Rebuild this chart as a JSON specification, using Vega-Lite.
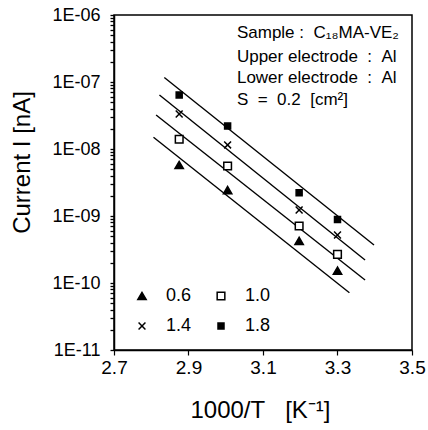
{
  "$schema": "https://vega.github.io/schema/vega-lite/v6.json",
  "width": 298,
  "height": 335,
  "autosize": "none",
  "padding": {"left": 114, "top": 15, "right": 16, "bottom": 80},
  "background": "white",
  "config": {
    "font": "Liberation Sans",
    "view": {"stroke": "black", "strokeWidth": 1.5},
    "axis": {"grid": false, "domainColor": "black", "domainWidth": 1.5, "tickColor": "black", "tickWidth": 1.2, "labelColor": "black", "titleColor": "black", "titleFontWeight": "normal"}
  },
  "datasets": {
    "points": [
      {"series": "0.6", "x": 2.875, "y": 5.77e-9},
      {"series": "0.6", "x": 3.005, "y": 2.44e-9},
      {"series": "0.6", "x": 3.197, "y": 4.24e-10},
      {"series": "0.6", "x": 3.300, "y": 1.53e-10},
      {"series": "1.0", "x": 2.875, "y": 1.40e-8},
      {"series": "1.0", "x": 3.005, "y": 5.57e-9},
      {"series": "1.0", "x": 3.197, "y": 7.1e-10},
      {"series": "1.0", "x": 3.300, "y": 2.68e-10},
      {"series": "1.4", "x": 2.875, "y": 3.33e-8},
      {"series": "1.4", "x": 3.005, "y": 1.15e-8},
      {"series": "1.4", "x": 3.197, "y": 1.23e-9},
      {"series": "1.4", "x": 3.300, "y": 5.2e-10},
      {"series": "1.8", "x": 2.875, "y": 6.4e-8},
      {"series": "1.8", "x": 3.005, "y": 2.2e-8},
      {"series": "1.8", "x": 3.197, "y": 2.23e-9},
      {"series": "1.8", "x": 3.300, "y": 8.9e-10}
    ],
    "fits": [
      {"series": "0.6", "x": 2.806, "y": 1.50e-8},
      {"series": "0.6", "x": 3.332, "y": 7.16e-11},
      {"series": "1.0", "x": 2.813, "y": 3.21e-8},
      {"series": "1.0", "x": 3.374, "y": 1.11e-10},
      {"series": "1.4", "x": 2.822, "y": 6.4e-8},
      {"series": "1.4", "x": 3.374, "y": 2.2e-10},
      {"series": "1.8", "x": 2.835, "y": 1.17e-7},
      {"series": "1.8", "x": 3.398, "y": 3.69e-10}
    ],
    "notes": [
      {"label": "Sample\u00a0:\u00a0\u00a0C₁₈MA-VE₂", "x": 3.03, "y": 5.38e-7},
      {"label": "Upper electrode\u00a0\u00a0:\u00a0\u00a0Al", "x": 3.03, "y": 2.36e-7},
      {"label": "Lower electrode\u00a0\u00a0:\u00a0\u00a0Al", "x": 3.03, "y": 1.15e-7},
      {"label": "S\u00a0\u00a0=\u00a0\u00a00.2\u00a0\u00a0[cm²]", "x": 3.03, "y": 5.38e-8}
    ]
  },
  "encoding": {
    "x": {
      "field": "x", "type": "quantitative",
      "scale": {"domain": [2.7, 3.5], "nice": false, "zero": false},
      "axis": {
        "values": [2.7, 2.9, 3.1, 3.3, 3.5], "format": ".1f",
        "ticks": true, "tickSize": 5, "labelFontSize": 19, "labelPadding": 3, "labelFlush": false, "labelOverlap": false,
        "title": "1000/T\u00a0\u00a0\u00a0[K⁻¹]", "titleFontSize": 24, "titleX": 146, "titleY": 67, "titleBaseline": "alphabetic"
      }
    },
    "y": {
      "field": "y", "type": "quantitative",
      "scale": {"type": "log", "domain": [1e-11, 1e-6], "nice": false},
      "axis": {
        "values": [1e-11, 2e-11, 3e-11, 4e-11, 5e-11, 6e-11, 7e-11, 8e-11, 9e-11,
                   1e-10, 2e-10, 3e-10, 4e-10, 5e-10, 6e-10, 7e-10, 8e-10, 9e-10,
                   1e-9, 2e-9, 3e-9, 4e-9, 5e-9, 6e-9, 7e-9, 8e-9, 9e-9,
                   1e-8, 2e-8, 3e-8, 4e-8, 5e-8, 6e-8, 7e-8, 8e-8, 9e-8,
                   1e-7, 2e-7, 3e-7, 4e-7, 5e-7, 6e-7, 7e-7, 8e-7, 9e-7, 1e-6],
        "ticks": true,
        "tickSize": 4, "tickColor": "black", "tickWidth": 1.3,
        "labelExpr": "abs(log(datum.value)/LN10 - round(log(datum.value)/LN10)) < 0.001 ? '1E-' + (-round(log(datum.value)/LN10) < 10 ? '0' : '') + (-round(log(datum.value)/LN10)) : ''",
        "labelFontSize": 18, "labelPadding": 10, "labelOverlap": false, "labelBound": false, "labelFlush": false,
        "title": "Current I [nA]", "titleFontSize": 24, "titleX": -92, "titleY": 147, "titleBaseline": "middle", "titleAngle": -90
      }
    }
  },
  "layer": [
    {
      "data": {"name": "fits"},
      "mark": {"type": "line", "color": "black", "strokeWidth": 1.4},
      "encoding": {"detail": {"field": "series", "type": "nominal"}}
    },
    {
      "data": {"name": "points"},
      "mark": {"type": "point", "opacity": 1, "stroke": "black", "strokeWidth": 1.5},
      "encoding": {
        "shape": {
          "field": "series", "type": "nominal",
          "scale": {"domain": ["0.6", "1.0", "1.4", "1.8"], "range": ["triangle-up", "square", "M-1,-1L1,1M-1,1L1,-1", "square"]},
          "legend": {"orient": "none", "direction": "horizontal", "legendX": 19, "legendY": 272, "columns": 2, "title": null, "labelFontSize": 18, "labelColor": "black", "labelOffset": 15, "columnPadding": 20, "rowPadding": 12, "symbolStrokeColor": "black", "symbolStrokeWidth": 1.5, "padding": 0}
        },
        "fill": {
          "field": "series", "type": "nominal",
          "scale": {"domain": ["0.6", "1.0", "1.4", "1.8"], "range": ["black", "white", "black", "black"]}
        },
        "size": {
          "field": "series", "type": "nominal",
          "scale": {"domain": ["0.6", "1.0", "1.4", "1.8"], "range": [70, 36, 42, 49]}
        }
      }
    },
    {
      "data": {"name": "notes"},
      "mark": {"type": "text", "align": "left", "baseline": "middle", "fontSize": 17, "color": "black"},
      "encoding": {"text": {"field": "label", "type": "nominal"}}
    }
  ]
}
